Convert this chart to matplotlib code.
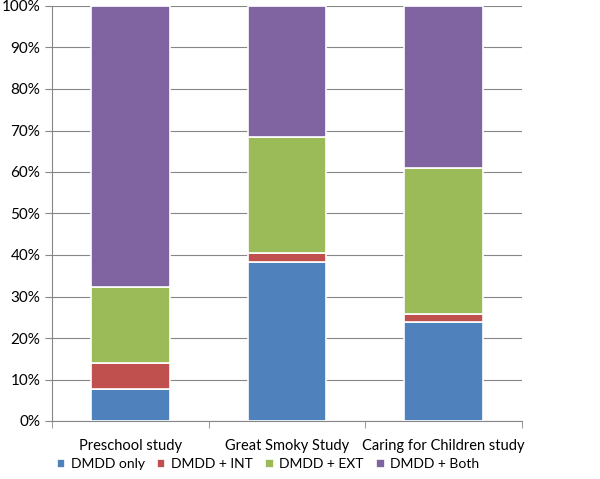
import matplotlib
matplotlib.use("Agg")
import matplotlib.pyplot as plt
from matplotlib.ticker import PercentFormatter
import numpy as np

plt.rcParams['font.family'] = ['Lato', 'DejaVu Sans']

studies = ["Preschool study", "Great Smoky Study", "Caring for Children study"]
series_names = ["DMDD only", "DMDD + INT", "DMDD + EXT", "DMDD + Both"]
dmdd_only = [7.7, 38.3, 23.8]
dmdd_int = [6.2, 2.2, 2.1]
dmdd_ext = [18.4, 28.0, 35.1]
dmdd_both = [67.7, 31.5, 39.0]
colors = ["#4F81BD", "#C0504D", "#9BBB59", "#8064A2"]

fig = plt.figure(figsize=(6, 4.79), dpi=100)
ax = fig.add_axes([52/600, 1-421/479, 470/600, 415/479])

x = np.arange(len(studies))
bottom = np.zeros(len(studies))
for vals, name, c in zip([dmdd_only, dmdd_int, dmdd_ext, dmdd_both], series_names, colors):
    ax.bar(x, vals, 0.5, bottom=bottom, color=c, edgecolor="white", linewidth=1.2,
           label=name, zorder=3)
    bottom += np.array(vals)

ax.set_xlim(-0.5, 2.5)
ax.set_ylim(0, 100)
ax.set_yticks(range(0, 101, 10))
ax.yaxis.set_major_formatter(PercentFormatter(decimals=0))
ax.grid(axis="y", color="#868686", linewidth=0.8, zorder=0)
ax.set_xticks(x)
ax.set_xticklabels(studies, fontsize=10.5)
ax.set_xticks([-0.5, 0.5, 1.5, 2.5], minor=True)
ax.tick_params(axis="x", which="major", length=0, pad=13)
ax.tick_params(axis="x", which="minor", length=5, color="#868686", direction="out")
ax.tick_params(axis="y", length=5, color="#868686", labelsize=11)
for s in ["top", "right"]:
    ax.spines[s].set_visible(False)
ax.spines["left"].set_color("#868686")
ax.spines["bottom"].set_color("#868686")

fig.legend(*ax.get_legend_handles_labels(), loc="center", bbox_to_anchor=(268/600, 1-464/479),
           ncol=4, frameon=False, fontsize=10, handlelength=0.6, handleheight=0.6,
           columnspacing=0.9, handletextpad=0.4, borderaxespad=0)

fig.savefig("out.png", dpi=100)
